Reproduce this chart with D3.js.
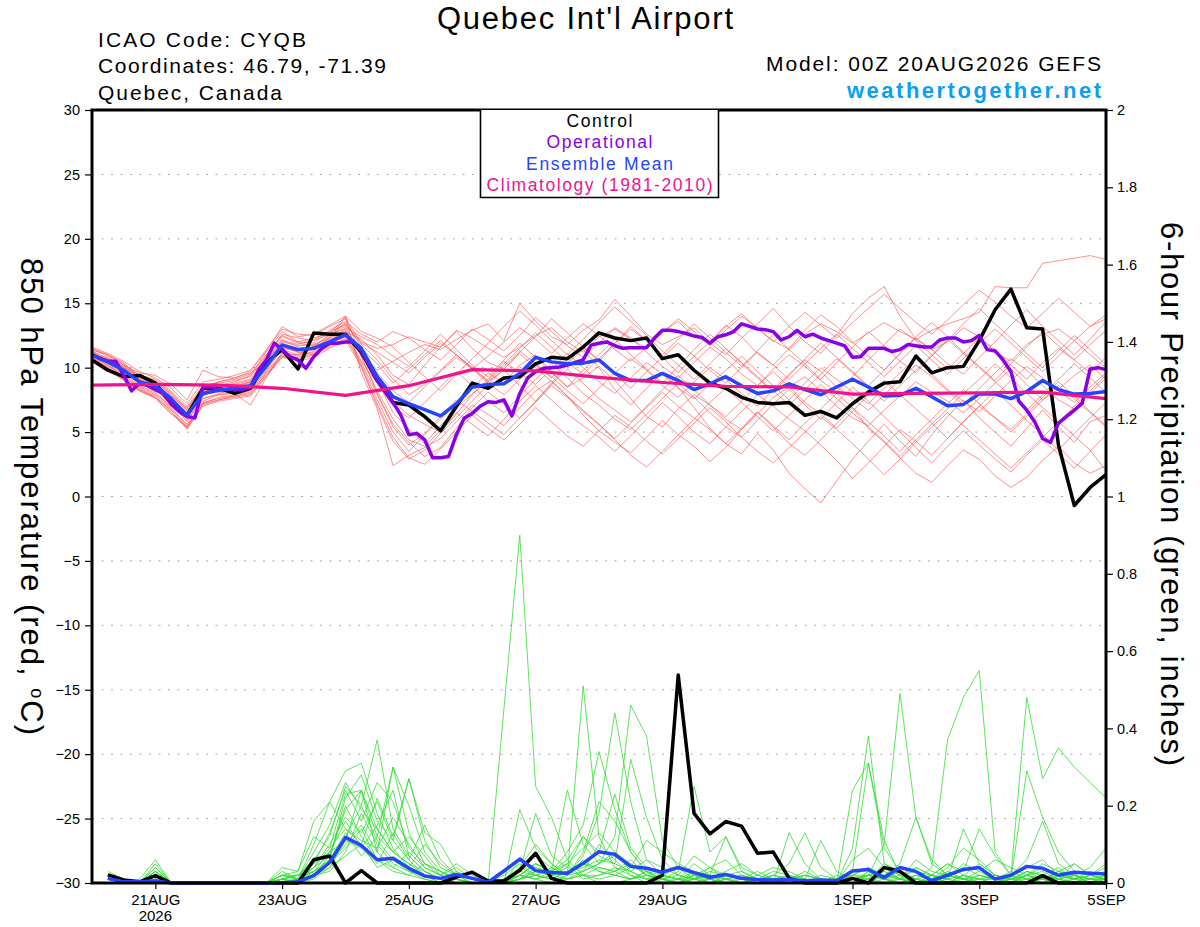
<!DOCTYPE html>
<html lang="en">
<head>
<meta charset="UTF-8">
<title>Quebec Int'l Airport</title>
<style>
  body { margin: 0; background: #fff; }
  svg { display: block; font-family: "Liberation Sans", Arial, Helvetica, sans-serif; }
  .grid line { stroke: #a8a8a8; stroke-width: 1; stroke-dasharray: 2,7.5; }
  .member-t { fill: none; stroke: #ff5050; stroke-width: 0.8; stroke-opacity: 0.8; }
  .member-p { fill: none; stroke: #33dd33; stroke-width: 0.8; }
  .axis text { font-size: 14.5px; fill: #000; }
  .axis line { stroke: #000; stroke-width: 1.2; }
  .axis path { display: none; }
</style>
</head>
<body>
<svg width="1200" height="927"></svg>
<script src="https://d3js.org/d3.v7.min.js"></script>
<script>
  // time axis (hours after 00Z 20AUG2026)
  const tickHours = [24, 72, 120, 168, 216, 288, 336, 384];
  const tickLabels = ["21AUG", "23AUG", "25AUG", "27AUG", "29AUG", "1SEP", "3SEP", "5SEP"];
  const tempTicks = [-30, -25, -20, -15, -10, -5, 0, 5, 10, 15, 20, 25, 30];
  const gridTemps = [-25, -20, -15, -10, -5, 0, 5, 10, 15, 20, 25];
  const precipTicks = [0, 0.2, 0.4, 0.6, 0.8, 1, 1.2, 1.4, 1.6, 1.8, 2];

  // 850 hPa temperature, 6-hourly from hour 0
  const controlTemp = [10.6,9.8,9.3,9.4,8.8,7.2,6.3,8.4,8.4,8.0,8.4,10.4,11.4,9.9,12.7,12.6,12.6,11.2,9.0,7.3,7.1,6.2,5.1,
    7.0,8.8,8.4,9.2,9.3,10.3,10.8,10.7,11.6,12.7,12.3,12.1,12.3,10.7,11.0,9.8,8.8,8.4,7.7,7.3,7.2,7.3,
    6.3,6.6,6.1,7.2,8.1,8.8,8.9,10.9,9.6,10.0,10.1,12.1,14.5,16.1,13.1,13.0,4.0,-0.7,0.7,1.7];
  const meanTemp = [11.0,10.45,9.8,8.9,8.6,7.6,6.3,8.0,8.25,8.4,8.6,10.1,11.75,11.4,11.5,12.0,12.55,11.5,9.3,7.75,7.2,6.75,6.25,
    7.2,8.5,8.7,8.75,9.55,10.8,10.45,10.3,10.35,10.6,9.55,9.0,9.0,9.55,9.0,8.3,8.75,9.3,8.6,8.0,8.2,8.75,
    8.3,7.9,8.5,9.1,8.5,7.8,7.85,8.4,7.75,7.05,7.15,7.95,7.95,7.6,8.15,9.0,8.3,7.95,8.0,8.15];
  // operational run, 3-hourly from hour 0
  const operationalTemp = [11.0,10.7,10.5,10.5,9.4,8.2,8.8,8.6,8.3,8.0,7.2,6.6,6.2,6.1,
    8.5,8.5,8.3,8.3,8.3,8.3,8.5,9.8,10.6,11.9,11.4,10.85,10.6,9.95,10.85,11.5,11.9,11.9,12.0,12.0,
    11.3,10.2,9.0,8.2,7.3,6.3,4.8,4.9,4.4,3.0,3.0,3.1,4.8,
    6.1,6.45,7.0,7.35,7.3,7.5,6.25,8.0,9.2,9.7,9.95,10.0,10.05,10.2,10.4,10.6,11.75,11.9,12.0,11.7,11.5,11.55,11.55,11.55,
    12.3,12.9,12.9,12.8,12.65,12.45,12.35,11.9,12.4,12.55,12.8,13.4,13.2,13.0,12.95,12.8,12.15,12.4,12.9,12.4,12.6,12.3,12.1,11.9,
    11.7,10.8,10.85,11.5,11.5,11.5,11.25,11.4,11.8,11.7,11.6,11.6,12.15,12.3,12.3,12.0,12.1,12.5,11.4,11.3,10.6,9.7,
    7.4,6.7,5.8,4.5,4.2,5.7,6.2,6.7,7.25,9.9,10.0,9.85];
  // climatology, daily
  const climTemp = [8.65,8.7,8.65,8.4,7.85,8.6,9.85,9.75,9.25,8.85,8.55,8.5,7.95,8.0,8.05,8.1,7.6];

  // ensemble members, 6-hourly from hour 0
  const memberTemps = [
    [11.2,10.6,9.9,9.0,8.5,7.4,6.0,7.8,8.3,8.6,8.9,10.5,12.1,11.8,12.2,12.8,13.3,12.0,11.5,11.8,12.4,12.0,11.6,12.9,12.3,11.5,10.8,11.6,12.5,13.1,12.0,11.2,12.4,13.0,12.2,11.5,12.8,13.6,12.4,11.9,13.2,14.2,13.0,12.1,11.4,12.6,13.4,12.8,11.9,12.7,13.5,12.8,12.2,12.9,13.4,13.8,14.3,16.3,16.2,16.2,18.1,18.3,18.5,18.7,18.4],
    [10.8,10.2,9.5,8.6,8.1,6.9,5.5,7.4,7.9,8.1,8.3,9.8,11.4,11.0,11.2,11.9,12.4,11.0,9.8,10.5,11.2,11.8,11.4,12.2,12.9,13.4,12.1,15.0,13.6,12.4,11.8,12.9,13.7,15.3,14.0,12.6,11.8,12.4,13.1,11.9,11.0,12.3,13.4,14.6,13.2,12.0,11.1,12.5,14.2,15.4,16.3,14.0,12.2,11.4,12.0,13.1,12.4,11.2,10.5,11.8,12.6,13.0,12.1,13.2,13.8],
    [11.4,10.9,10.3,9.4,9.1,8.2,7.0,8.6,8.8,9.0,9.3,10.9,12.6,12.3,12.1,12.6,13.0,10.2,7.5,5.0,3.5,4.8,6.0,7.2,8.4,9.6,8.8,10.2,11.0,9.7,8.5,9.2,10.1,9.0,7.6,6.2,5.4,6.8,7.9,7.1,6.0,5.2,6.4,7.7,8.5,9.3,8.2,7.0,6.1,5.5,6.7,7.8,8.9,8.1,7.4,6.5,7.6,8.8,9.9,8.7,7.5,8.3,9.4,10.2,9.1],
    [10.6,10.0,9.2,8.3,7.8,6.6,5.2,7.1,7.5,7.7,7.9,9.4,10.9,10.8,11.3,12.3,13.9,9.6,6.8,2.4,3.2,3.8,4.5,5.8,7.1,6.4,5.5,6.9,8.2,9.0,7.8,6.3,5.1,4.2,3.4,4.6,5.9,4.8,3.9,2.7,3.8,5.2,6.5,5.4,4.1,3.2,4.4,5.7,6.9,5.3,4.2,3.0,1.8,1.1,2.4,3.6,2.9,1.6,0.7,1.5,2.8,3.9,2.6,1.8,2.4],
    [11.1,10.5,10.1,9.2,8.9,7.9,6.6,8.3,8.1,8.2,8.4,10.2,11.8,11.2,11.0,11.6,12.2,11.3,9.0,6.5,5.2,4.1,5.5,6.8,8.0,8.9,9.8,8.6,7.4,8.8,10.3,11.4,10.0,8.3,7.1,8.4,9.6,8.5,6.9,5.3,4.1,3.3,4.9,3.6,1.8,0.6,-0.5,1.2,2.9,4.3,5.6,4.3,3.1,4.8,6.2,7.5,6.1,5.0,3.9,5.3,6.7,5.4,4.2,5.8,6.3],
    [11.0,10.3,9.6,8.8,8.3,7.1,6.3,8.1,8.5,8.8,9.1,10.7,12.4,11.9,11.7,12.1,12.8,12.2,11.0,9.4,8.7,10.2,11.6,12.8,11.5,10.4,9.9,11.2,12.4,13.8,12.7,11.6,10.5,11.9,13.0,12.1,10.8,9.6,10.9,12.0,13.3,12.4,11.1,10.2,11.5,12.9,14.1,13.2,12.0,10.9,9.8,11.1,12.3,11.4,10.3,9.5,10.8,12.0,13.3,14.5,13.2,12.1,11.0,12.2,13.6],
    [10.9,10.7,10.2,9.6,9.4,8.7,7.5,9.8,9.3,9.2,9.6,10.4,11.6,11.2,11.4,12.4,13.5,11.6,9.1,7.4,6.3,5.6,5.0,6.4,7.9,9.1,10.5,9.6,8.7,9.9,11.1,10.0,8.9,8.0,9.2,10.4,9.5,8.4,7.6,8.7,9.8,10.9,9.7,8.6,7.5,8.8,10.0,9.1,8.1,7.2,8.4,9.6,10.7,9.5,8.3,7.4,6.6,7.8,9.0,10.1,9.2,8.2,7.3,8.5,9.6],
    [11.3,10.4,9.7,8.7,8.4,7.3,5.8,7.6,7.9,8.0,7.1,9.2,11.2,10.9,11.6,12.6,14.0,10.8,8.2,6.0,4.4,3.9,5.1,6.5,5.6,4.7,6.0,7.4,8.6,7.5,6.4,5.5,4.6,3.5,4.7,6.0,7.3,6.2,5.0,4.1,5.4,6.6,7.9,7.0,6.0,5.1,4.0,2.8,1.4,2.6,3.9,5.2,4.3,3.2,4.5,5.8,7.0,6.1,5.2,6.4,7.7,8.9,7.8,6.6,5.5],
    [11.5,11.0,10.4,9.1,8.7,7.7,6.4,8.0,8.6,8.9,9.4,11.2,12.8,12.0,11.9,12.9,13.6,12.6,12.0,12.8,12.3,11.4,10.6,11.8,13.0,12.2,11.3,12.5,13.9,12.8,11.7,10.8,11.9,13.1,12.3,11.2,10.1,9.2,10.4,11.6,10.7,9.5,8.6,9.9,11.0,10.1,9.0,8.1,9.3,10.6,11.8,13.0,12.1,11.0,9.9,11.1,12.3,11.4,10.2,9.1,10.4,11.5,10.6,9.6,10.8],
    [10.7,10.1,9.4,8.5,8.0,7.0,5.9,7.6,8.0,8.3,8.6,10.0,11.5,11.3,11.6,12.2,12.7,10.5,8.8,7.0,6.1,7.3,8.5,9.7,8.6,7.4,6.5,7.8,9.1,10.3,9.2,8.0,7.1,6.0,5.2,6.4,7.6,8.8,7.7,6.5,5.4,4.6,5.9,7.2,8.3,7.1,6.0,7.3,8.5,7.4,6.2,5.0,3.8,2.6,3.9,5.1,4.0,2.9,1.9,3.2,4.4,3.3,2.2,3.5,4.8],
    [11.0,10.8,10.0,9.3,8.8,7.8,6.9,8.4,8.7,8.5,8.9,10.6,12.2,11.6,11.5,12.0,13.1,12.4,11.8,10.9,10.1,11.3,12.6,11.4,10.2,9.3,10.6,11.9,10.8,9.6,8.5,9.8,11.0,12.2,11.0,9.9,8.8,10.1,11.4,12.6,11.5,10.3,9.2,8.1,9.4,10.7,11.9,10.8,9.7,8.6,9.8,11.1,12.4,13.5,12.4,11.2,10.1,9.0,10.3,11.6,12.8,11.7,10.6,11.8,12.9],
    [10.5,9.8,9.0,8.2,7.6,6.4,5.4,7.2,7.7,7.9,8.2,9.7,11.1,11.0,11.7,12.5,13.2,10.9,8.0,5.6,4.2,3.1,3.8,5.3,6.9,8.1,7.2,6.1,7.4,8.7,9.9,8.8,7.6,6.7,5.8,7.0,8.3,9.4,8.3,7.1,6.2,7.4,8.6,9.7,8.5,7.3,6.4,5.3,6.6,7.9,9.0,7.9,6.8,5.7,4.5,5.8,7.0,8.2,7.1,5.9,4.8,3.6,4.9,6.1,7.3],
    [11.3,10.7,10.1,9.3,8.9,8.0,6.7,8.4,8.9,9.1,9.5,11.0,12.5,12.0,12.3,12.7,13.4,11.8,10.6,9.1,7.9,8.7,9.8,11.0,10.0,9.0,10.3,11.5,12.7,11.6,10.4,9.5,10.7,11.9,13.2,12.1,11.0,12.2,13.4,12.3,11.2,10.1,11.3,12.6,11.4,10.3,9.1,10.4,11.6,12.8,11.7,10.5,9.6,10.9,12.1,13.4,14.6,13.4,12.3,11.1,10.0,11.3,12.5,11.4,10.2],
    [10.9,10.2,9.3,8.4,7.9,6.8,5.6,7.3,7.6,7.8,8.0,9.6,11.0,10.7,11.1,11.8,12.6,10.0,7.2,4.6,3.0,2.5,3.7,5.0,6.3,5.3,4.4,5.6,6.9,5.8,4.7,3.9,5.1,6.3,5.4,4.3,3.3,4.5,5.7,6.9,5.8,4.6,3.5,2.6,3.8,5.0,6.2,5.2,4.1,2.9,1.7,2.9,4.2,5.4,6.5,5.5,4.4,3.3,2.2,3.4,4.6,5.8,4.7,3.6,2.0],
    [11.2,10.4,9.8,9.0,8.6,7.5,6.2,7.9,8.2,8.5,8.8,10.3,11.9,11.5,11.4,11.9,12.5,11.1,9.6,8.2,7.3,8.5,9.7,10.8,9.9,8.8,7.9,9.1,10.2,9.3,8.2,7.2,8.4,9.6,10.7,9.8,8.6,7.7,8.9,10.0,9.1,8.0,7.0,8.3,9.5,10.6,9.7,8.5,7.6,6.7,7.9,9.1,10.2,9.3,8.2,7.1,8.4,9.6,10.7,9.8,8.6,7.5,6.8,8.0,9.2],
    [11.6,11.1,10.5,9.7,9.2,8.4,7.2,8.9,9.1,9.4,9.8,11.4,13.0,12.6,12.5,13.2,13.8,11.9,11.2,10.4,9.6,10.8,11.9,11.0,9.9,10.9,12.0,13.1,12.2,11.1,12.3,13.4,12.5,11.4,10.5,11.6,12.7,13.8,12.8,11.7,12.9,14.0,13.1,12.0,13.2,14.3,13.3,12.3,13.5,14.6,15.7,14.6,13.5,12.6,13.7,14.9,16.0,15.1,14.0,13.1,14.2,15.4,14.3,13.2,14.1],
    [10.8,10.0,9.1,8.3,7.7,6.7,5.3,7.0,7.4,7.6,7.8,9.3,10.8,10.6,11.0,11.7,12.3,10.4,7.9,5.4,4.0,4.9,6.2,7.5,6.6,5.7,4.8,6.1,7.3,8.6,7.7,6.6,5.6,4.5,5.7,6.9,8.1,7.0,6.1,5.2,4.1,5.3,6.6,5.5,4.4,5.7,6.8,8.0,6.9,5.8,4.7,3.5,4.8,6.0,7.2,8.3,7.2,6.1,5.0,6.2,7.5,8.6,7.6,6.5,5.4],
    [11.1,10.6,10.0,9.1,8.6,7.6,6.5,8.2,8.4,8.7,9.0,10.5,12.0,11.7,11.8,12.3,12.9,11.5,10.3,8.8,9.9,11.0,12.1,11.0,10.0,8.9,10.1,11.3,10.3,9.2,10.4,11.6,10.6,9.5,8.4,9.7,10.8,11.9,10.9,9.8,8.8,10.0,11.2,10.2,9.1,10.3,11.5,12.6,11.5,10.4,9.3,10.5,11.7,10.6,9.5,10.7,11.9,13.0,11.9,10.8,9.7,10.9,12.1,11.0,10.0],
    [11.4,11.0,10.2,9.4,9.0,8.1,6.8,8.5,8.9,9.2,9.7,11.3,13.2,12.4,12.6,13.3,14.0,12.8,12.3,11.6,10.4,9.3,8.2,9.5,10.7,11.9,13.2,14.4,13.3,12.1,11.0,12.2,13.5,14.7,13.6,12.5,11.3,10.2,9.1,10.3,11.5,10.4,9.3,8.2,7.1,8.3,9.5,10.7,9.6,8.5,7.4,8.6,9.8,11.0,12.2,11.1,10.0,8.9,7.8,6.7,7.9,9.1,10.3,9.2,8.1],
    [10.6,9.9,9.1,8.2,7.7,6.5,5.4,7.2,7.5,7.8,8.1,9.5,10.9,10.5,10.8,11.5,12.1,10.1,7.0,4.3,2.9,3.6,4.9,6.1,7.4,8.7,9.9,11.1,10.0,8.9,7.8,6.7,5.6,4.4,3.2,2.3,3.5,4.8,6.0,7.3,8.4,7.3,6.2,5.1,6.3,7.5,8.7,7.6,6.5,5.4,4.3,3.1,4.4,5.6,6.8,8.0,9.1,10.3,9.2,8.0,6.9,5.8,7.0,8.2,9.4]
  ];

  // 6-hour precipitation (inches), 6-hourly from hour 6
  const controlPrecip = [.021,.008,.003,.019,0,0,0,0, 0,0,0,0,0,.06,.07,0, .032,0,0,0,0,0,.015,.028,
    .005,.005,.033,.077,.012,0,0,0, 0,0,0,.02,.538,.18,.127,.159, .147,.077,.08,.012,0,0,0,.012,
    0,.04,.03,0,0,0,0,0, 0,0,0,.019,0,0,0,0];
  const meanPrecip = [.012,.003,.003,.005,0,0,0,0, 0,0,0,0,.003,.019,.053,.118, .097,.06,.064,.038,.018,.012,.022,.012,
    .002,.031,.062,.032,.027,.025,.051,.081, .074,.043,.038,.028,.04,.027,.015,.022, .012,.009,.008,.009,.006,.008,.006,.031,
    .035,.014,.04,.03,.006,.02,.035,.04, .01,.02,.043,.038,.02,.028,.025,.023];
  const memberPrecips = [
    [.02,0,.01,.06,0,0,0,0, 0,0,0,.02,.03,.16,.21,.29, .31,.18,.09,.04,.02,0,.01,0, 0,.45,.90,.25,.17,.06,.02,0, 0,.01,.03,0,0,.02,.01,0, 0,0,.01,.02,0,0,0,.02, .04,.01,0,0,.02,.05,.02,0, 0,.01,.03,.01,0,.02,.01,.01],
    [.01,0,0,.04,0,0,0,0, 0,0,0,.01,.02,.06,.12,.25, .20,.37,.14,.07,.03,.01,0,0, 0,0,.04,.10,.05,.02,.51,.12, .04,.02,0,.01,0,0,0,.01, .02,0,0,0,.01,0,0,.09, .38,.05,.02,0,0,.03,.01,0, 0,0,.02,.05,.03,.01,0,0],
    [0,0,0,.03,0,0,0,0, 0,0,0,.03,.01,.04,.09,.23, .24,.12,.30,.13,.05,.02,.04,.01, 0,0,.02,.05,.03,.08,.15,.34, .19,.08,.03,.01,0,.03,.02,0, 0,.01,0,0,0,.01,0,.03, .31,.09,.03,.01,0,0,.02,.05, .02,0,.01,0,.03,.02,0,.01],
    [.03,.01,0,.02,0,0,0,0, 0,0,0,0,.01,.10,.21,.14, .10,.22,.12,.27,.11,.04,.02,0, 0,0,.19,.09,.05,.02,.07,.18, .44,.21,.06,.02,.01,.03,.01,0, 0,0,0,0,.01,0,.01,.02, .02,.10,.49,.17,.05,.02,.01,0, 0,0,.02,.04,.01,0,.01,0],
    [.01,0,0,.05,0,0,0,0, 0,0,0,.02,.02,.05,.08,.11, .24,.08,.30,.20,.08,.03,.01,0, 0,.02,.05,.02,.03,.24,.10,.05, .12,.46,.38,.11,.04,.02,0,.01, 0,0,0,.01,.02,.01,0,0, .03,.01,0,.01,.04,.37,.48,.55, .08,.02,0,.02,.01,.03,.02,.04],
    [0,0,0,.02,0,0,0,0, 0,0,0,.01,0,.03,.06,.22, .28,.16,.11,.27,.13,.10,.03,.01, 0,0,.01,.03,.02,.05,.09,.13, .08,.05,.02,.01,.03,.25,.08,.12, .04,.02,.01,0,0,0,.01,0, .02,.04,.01,0,.02,.05,.03,.14, .07,.02,.48,.27,.35,.30,.26,.22],
    [.02,0,0,.03,0,0,0,0, 0,0,0,0,.01,.08,.15,.26, .19,.14,.08,.05,.02,0,0,0, 0,.01,.03,.18,.07,.04,.12,.08, .23,.09,.04,.02,.01,.05,.02,.12, .03,.01,0,.13,.05,.01,0,.24, .31,.11,.02,0,.01,.04,.09,.06, .02,.01,.29,.17,.08,.03,.02,.01],
    [0,0,0,.01,0,0,0,0, 0,0,0,.01,0,.04,.10,.17, .13,.21,.11,.06,.15,.06,.02,0, 0,0,.02,.05,.03,.02,.08,.21, .16,.08,.03,.01,0,.01,.03,.02, .01,0,.02,.05,.13,.04,.01,0, 0,.02,.05,.17,.06,.02,.01,0, 0,.02,.06,.16,.05,.02,.04,.09],
    [.01,.01,0,.04,0,0,0,0, 0,0,0,.04,.03,.12,.09,.14, .11,.09,.17,.10,.04,.02,.05,.02, 0,0,.01,.02,.01,.03,.04,.06, .05,.32,.17,.06,.02,.01,.04,.06, .02,0,.01,.02,.01,.11,.03,.01, .02,.03,.01,.04,.02,.01,.14,.05, .02,.01,.03,.02,.01,.05,.02,.01],
    [0,0,0,.02,0,0,0,0, 0,0,0,.02,.01,.05,.13,.24, .16,.26,.21,.09,.05,.03,.01,0, 0,0,.03,.07,.04,.02,.05,.04, .03,.06,.02,.01,.02,.07,.04,.02, .01,.02,.04,.03,.01,0,0,.06, .09,.04,.02,.03,.02,.01,.05,.03, .06,.04,.02,.01,.03,.05,.02,.03],
    [.01,0,0,.02,0,0,0,0, 0,0,0,0,0,.02,.07,.19, .24,.14,.08,.12,.07,.02,0,0, 0,0,.06,.04,.02,.01,.03,.05, .07,.04,.11,.08,.05,.03,.02,.01, 0,.01,.03,.02,0,0,.01,.02, .04,.02,.01,.06,.03,.02,.01,.03, .01,.02,.04,.06,.02,.01,0,.02],
    [0,0,0,.01,0,0,0,0, 0,0,0,.01,.02,.03,.05,.12, .20,.11,.06,.04,.10,.05,.02,.01, 0,.01,.02,.01,.03,.06,.12,.07, .05,.03,.06,.04,.02,.01,0,.02, .03,.01,0,.01,.02,.01,0,0, .01,.05,.03,.01,0,.02,.04,.02, .01,0,.03,.02,.04,.01,.02,.05],
    [.02,.01,0,.03,0,0,0,0, 0,0,0,.02,.01,.02,.05,.09, .14,.06,.03,.02,.01,0,0,0, 0,0,.01,.03,.02,.04,.03,.10, .06,.02,.01,0,.01,.02,.01,0, 0,0,.01,0,0,.02,.01,0, .03,.01,0,.02,.01,0,.02,.01, 0,.01,.02,.01,0,.01,.03,.02],
    [0,0,0,.02,0,0,0,0, 0,0,0,.01,0,.01,.04,.11, .09,.15,.24,.07,.03,.01,0,0, 0,0,.02,.01,0,.02,.06,.03, .02,.01,.03,.02,.01,0,.01,.03, .05,.02,.01,0,0,.01,0,.01, .02,.01,.03,.01,0,.01,0,.02, .01,.03,.01,0,.02,.01,.01,.02],
    [.01,0,0,.01,0,0,0,0, 0,0,0,0,.01,.03,.08,.16, .09,.05,.13,.06,.02,.01,.03,.01, 0,.01,.04,.02,.01,.01,.02,.04, .03,.05,.02,.01,0,.02,.04,.01, .01,0,.02,.01,.03,.01,0,.01, .01,.02,.01,0,.01,.03,.01,.01, .02,.01,0,.01,.03,.02,.01,.01],
    [0,0,0,.01,0,0,0,0, 0,0,0,.01,.02,.04,.07,.20, .12,.06,.04,.08,.04,.02,.01,0, 0,0,.01,.04,.03,.05,.01,.02, .04,.03,.01,.02,.04,.01,.02,0, .01,.03,.01,0,0,0,.02,.01, 0,.01,.02,.04,.02,.01,0,.01, .01,0,.02,.03,.01,.02,.01,0],
    [.01,0,0,.02,0,0,0,0, 0,0,0,.02,.01,.02,.03,.08, .18,.10,.05,.03,.02,.01,.01,0, 0,0,.02,.05,.03,.01,.02,.02, .03,.01,.02,.01,0,.01,.02,.01, 0,.01,0,.01,.02,.01,.01,0, .01,0,.01,.02,.01,.02,.01,0, .02,.01,0,.02,.01,0,.02,.01],
    [0,0,0,.03,0,0,0,0, 0,0,0,0,.01,.03,.06,.13, .07,.12,.08,.05,.03,.01,0,0, 0,0,.03,.02,.01,.03,.05,.03, .02,.04,.03,.01,.01,0,.01,.02, .01,0,0,.01,.01,0,0,.02, .01,.03,.01,.01,0,.01,.02,.01, .01,.02,.01,.01,0,.01,.02,.01],
    [.01,0,0,.02,0,0,0,0, 0,0,0,.01,0,.02,.05,.10, .15,.08,.04,.02,.05,.03,.01,0, 0,0,.01,.02,.04,.02,.03,.05, .08,.03,.01,.02,.01,.01,0,.01, .02,.01,.01,0,0,.01,.01,0, .02,.01,0,.01,.02,0,.01,.02, .01,.01,.02,0,.01,.02,0,.01],
    [0,0,0,.01,0,0,0,0, 0,0,0,.01,.01,.02,.04,.07, .10,.04,.06,.03,.01,0,0,0, 0,0,.02,.01,.02,.03,.02,.01, .02,.01,.02,.01,0,.01,.01,0, 0,.01,.02,.01,0,0,.01,.01, .02,.01,.01,0,.01,.02,.01,0, 0,.01,.01,.02,.01,0,.01,.01]
  ];

  function check(name, arr, n) {
    if (arr.length !== n) throw new Error(name + " has " + arr.length + " values, expected " + n);
  }
  check("controlTemp", controlTemp, 65);
  check("meanTemp", meanTemp, 65);
  check("operationalTemp", operationalTemp, 129);
  check("climTemp", climTemp, 17);
  check("controlPrecip", controlPrecip, 64);
  check("meanPrecip", meanPrecip, 64);
  memberTemps.forEach((m, k) => check("memberTemps[" + k + "]", m, 65));
  memberPrecips.forEach((m, k) => check("memberPrecips[" + k + "]", m, 64));

  const hours6 = d3.range(0, 385, 6);
  const hours3 = d3.range(0, 385, 3);
  const hoursPrecip = d3.range(6, 385, 6);
  const hoursClim = d3.range(0, 385, 24);

  const colors = {
    control: "#000000",
    operational: "#8a00e6",
    mean: "#2444ff",
    clim: "#f0148c",
    site: "#09a0f4"
  };

  const svg = d3.select("svg");
  const plotLeft = 92, plotRight = 1106, plotTop = 110, plotBottom = 883;

  const x = d3.scaleLinear().domain([0, 384]).range([plotLeft, plotRight]);
  const yT = d3.scaleLinear().domain([-30, 30]).range([plotBottom, plotTop]);
  const yP = d3.scaleLinear().domain([0, 2]).range([plotBottom, plotTop]);

  // dotted grid on temperature ticks
  svg.append("g").attr("class", "grid")
    .selectAll("line").data(gridTemps).enter().append("line")
    .attr("x1", plotLeft).attr("x2", plotRight)
    .attr("y1", d => yT(d)).attr("y2", d => yT(d));

  const lineT = hours => d3.line().x((d, i) => x(hours[i])).y(d => yT(d));
  const lineP = d3.line().x((d, i) => x(hoursPrecip[i])).y(d => yP(d));

  const plot = svg.append("g");

  plot.selectAll(".member-t").data(memberTemps).enter().append("path")
    .attr("class", "member-t")
    .attr("d", lineT(hours6));

  plot.selectAll(".member-p").data(memberPrecips).enter().append("path")
    .attr("class", "member-p")
    .attr("d", lineP);

  // precipitation control and mean
  plot.append("path").datum(controlPrecip)
    .attr("d", lineP).attr("fill", "none")
    .attr("stroke", colors.control).attr("stroke-width", 3.5).attr("stroke-linejoin", "round");
  plot.append("path").datum(meanPrecip)
    .attr("d", lineP).attr("fill", "none")
    .attr("stroke", colors.mean).attr("stroke-width", 3.5).attr("stroke-linejoin", "round");

  // temperature control, operational, mean, climatology
  plot.append("path").datum(controlTemp)
    .attr("d", lineT(hours6)).attr("fill", "none")
    .attr("stroke", colors.control).attr("stroke-width", 3.5).attr("stroke-linejoin", "round");
  plot.append("path").datum(operationalTemp)
    .attr("d", lineT(hours3)).attr("fill", "none")
    .attr("stroke", colors.operational).attr("stroke-width", 3.5).attr("stroke-linejoin", "round");
  plot.append("path").datum(meanTemp)
    .attr("d", lineT(hours6)).attr("fill", "none")
    .attr("stroke", colors.mean).attr("stroke-width", 3.5).attr("stroke-linejoin", "round");
  plot.append("path").datum(climTemp)
    .attr("d", lineT(hoursClim)).attr("fill", "none")
    .attr("stroke", colors.clim).attr("stroke-width", 3.2).attr("stroke-linejoin", "round");

  // axes
  svg.append("g").attr("class", "axis")
    .attr("transform", `translate(${plotLeft},0)`)
    .call(d3.axisLeft(yT).tickValues(tempTicks).tickSize(7).tickPadding(5).tickFormat(d3.format("d")));

  svg.append("g").attr("class", "axis")
    .attr("transform", `translate(${plotRight},0)`)
    .call(d3.axisRight(yP).tickValues(precipTicks).tickSize(7).tickPadding(4)
      .tickFormat(d => String(+d.toFixed(1))));

  const xAxis = svg.append("g").attr("class", "axis")
    .attr("transform", `translate(0,${plotBottom})`)
    .call(d3.axisBottom(x).tickValues(tickHours).tickSize(6).tickPadding(5)
      .tickFormat((d, i) => tickLabels[i]));
  xAxis.selectAll("text").style("font-size", "15px");

  svg.append("text")
    .attr("x", x(tickHours[0])).attr("y", 921)
    .attr("text-anchor", "middle").style("font-size", "15px")
    .text("2026");

  // frame
  svg.append("rect")
    .attr("x", plotLeft).attr("y", plotTop)
    .attr("width", plotRight - plotLeft).attr("height", plotBottom - plotTop)
    .attr("fill", "none").attr("stroke", "#000").attr("stroke-width", 3);

  // legend
  const legend = svg.append("g");
  legend.append("path")
    .attr("d", "M 480.5 110 L 480.5 197.5 L 718.5 197.5 L 718.5 110")
    .attr("fill", "#fff").attr("stroke", "#000").attr("stroke-width", 1.6);
  const legendItems = [
    { label: "Control", color: colors.control, y: 127, w: 66 },
    { label: "Operational", color: colors.operational, y: 148, w: 106 },
    { label: "Ensemble Mean", color: colors.mean, y: 169.5, w: 147 },
    { label: "Climatology (1981-2010)", color: colors.clim, y: 191, w: 226 }
  ];
  legendItems.forEach(it => {
    legend.append("text")
      .attr("x", 599.5).attr("y", it.y)
      .attr("text-anchor", "middle")
      .attr("textLength", it.w).attr("lengthAdjust", "spacing")
      .style("font-size", "17.5px").style("fill", it.color)
      .text(it.label);
  });

  // titles
  svg.append("text")
    .attr("x", 585).attr("y", 28.5).attr("text-anchor", "middle")
    .attr("textLength", 296).attr("lengthAdjust", "spacing")
    .style("font-size", "31px")
    .text("Quebec Int'l Airport");

  const header = [
    { t: "ICAO Code: CYQB", x: 98, y: 47, w: 208, anchor: "start" },
    { t: "Coordinates: 46.79, -71.39", x: 98, y: 73, w: 288, anchor: "start" },
    { t: "Quebec, Canada", x: 98, y: 99.5, w: 184, anchor: "start" },
    { t: "Model: 00Z 20AUG2026 GEFS", x: 1101, y: 71, w: 335, anchor: "end" }
  ];
  header.forEach(h => {
    svg.append("text")
      .attr("x", h.x).attr("y", h.y).attr("text-anchor", h.anchor)
      .attr("textLength", h.w).attr("lengthAdjust", "spacing")
      .style("font-size", "21px")
      .text(h.t);
  });
  svg.append("text")
    .attr("x", 1101).attr("y", 97.5).attr("text-anchor", "end")
    .attr("textLength", 254).attr("lengthAdjust", "spacing")
    .style("font-size", "22px").style("font-weight", "bold").style("fill", colors.site)
    .text("weathertogether.net");

  // axis titles (both rotated clockwise)
  const leftTitle = svg.append("text")
    .attr("transform", "translate(21,496.5) rotate(90)")
    .attr("text-anchor", "middle")
    .attr("textLength", 477).attr("lengthAdjust", "spacing")
    .style("font-size", "31px");
  leftTitle.append("tspan").text("850 hPa Temperature (red, ");
  leftTitle.append("tspan").attr("baseline-shift", "super").style("font-size", "18px").text("o");
  leftTitle.append("tspan").text("C)");

  svg.append("text")
    .attr("transform", "translate(1161,494) rotate(90)")
    .attr("text-anchor", "middle")
    .attr("textLength", 544).attr("lengthAdjust", "spacing")
    .style("font-size", "31px")
    .text("6-hour Precipitation (green, inches)");
</script>
</body>
</html>
